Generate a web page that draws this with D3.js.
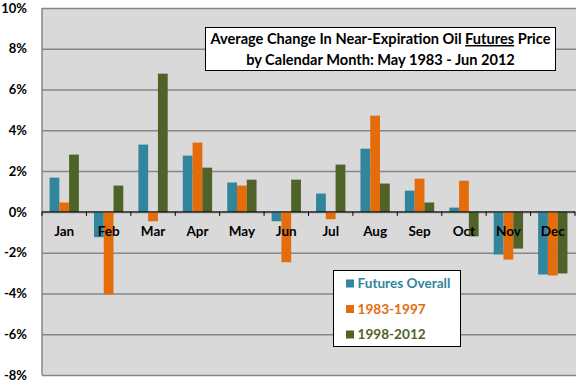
<!DOCTYPE html>
<html>
<head>
<meta charset="utf-8">
<script src="https://cdn.jsdelivr.net/npm/d3@7"></script>
<style>
  body { margin: 0; background: #fff; }
  svg { display: block; font-family: Lato, "Open Sans", sans-serif; font-weight: bold; }
  .grid line { stroke: #868686; stroke-width: 1.5; }
  .grid .domain { display: none; }
</style>
</head>
<body>
<svg id="chart"></svg>
<script>
const months = ['Jan', 'Feb', 'Mar', 'Apr', 'May', 'Jun', 'Jul', 'Aug', 'Sep', 'Oct', 'Nov', 'Dec'];
const seriesNames = ['Futures Overall', '1983-1997', '1998-2012'];
const futuresOverall = [1.68, -1.24, 3.30, 2.76, 1.44, -0.46, 0.90, 3.10, 1.04, 0.21, -2.09, -3.07];
const early = [0.46, -4.04, -0.46, 3.40, 1.29, -2.47, -0.36, 4.72, 1.63, 1.53, -2.34, -3.12];
const late = [2.81, 1.29, 6.78, 2.17, 1.58, 1.58, 2.32, 1.39, 0.46, -1.20, -1.80, -3.02];
const yTicks = [-8, -6, -4, -2, 0, 2, 4, 6, 8, 10];
const colors = ['#31859c', '#e46c0a', '#4f6228'];

const width = 576, height = 384;
const margin = {top: 8, right: 1, bottom: 9, left: 42};
const innerW = width - margin.left - margin.right;
const innerH = height - margin.top - margin.bottom;

const svg = d3.select('#chart')
    .attr('width', width)
    .attr('height', height);

const g = svg.append('g')
    .attr('transform', 'translate(' + margin.left + ',' + margin.top + ')');

g.append('rect')
    .attr('width', width - margin.left)
    .attr('height', innerH)
    .attr('fill', '#d9d9d9');

const x = d3.scaleBand()
    .domain(months)
    .range([0, innerW])
    .paddingInner(0.34)
    .paddingOuter(0.17);

const xSub = d3.scaleBand()
    .domain(d3.range(seriesNames.length))
    .range([0, x.bandwidth()]);

const y = d3.scaleLinear()
    .domain([-8, 10])
    .range([innerH, 0]);

// gridlines
g.append('g')
    .attr('class', 'grid')
    .call(d3.axisLeft(y).tickValues(yTicks).tickSize(-(width - margin.left)).tickFormat(''));

// left axis line
g.append('line')
    .attr('x1', 0).attr('x2', 0)
    .attr('y1', 0).attr('y2', innerH)
    .attr('stroke', '#868686')
    .attr('stroke-width', 1.5);

// y labels
g.selectAll('.ylab')
    .data(yTicks)
  .enter().append('text')
    .attr('class', 'ylab')
    .attr('x', -15)
    .attr('y', d => y(d))
    .attr('dy', '0.36em')
    .attr('text-anchor', 'end')
    .attr('font-size', 13)
    .attr('fill', '#000')
    .text(d => d + '%');

// bars
const seriesData = [futuresOverall, early, late];
seriesData.forEach((vals, si) => {
    g.selectAll('.bar' + si)
        .data(vals)
      .enter().append('rect')
        .attr('class', 'bar' + si)
        .attr('x', (d, i) => x(months[i]) + xSub(si))
        .attr('width', xSub.bandwidth())
        .attr('y', d => y(Math.max(0, d)))
        .attr('height', d => Math.abs(y(d) - y(0)))
        .attr('fill', colors[si]);
});

// zero axis with ticks at category boundaries
const step = x.step();
const boundaries = d3.range(months.length + 1).map(i => i * step);
g.append('line')
    .attr('x1', 0).attr('x2', innerW)
    .attr('y1', y(0)).attr('y2', y(0))
    .attr('stroke', '#000')
    .attr('stroke-width', 1);
g.selectAll('.xtick')
    .data(boundaries)
  .enter().append('line')
    .attr('class', 'xtick')
    .attr('x1', d => d).attr('x2', d => d)
    .attr('y1', y(0)).attr('y2', y(0) + 4)
    .attr('stroke', '#000');

g.selectAll('.xlab')
    .data(months)
  .enter().append('text')
    .attr('class', 'xlab')
    .attr('x', d => x(d) + x.bandwidth() / 2)
    .attr('y', y(0) + 19)
    .attr('dy', '0.36em')
    .attr('text-anchor', 'middle')
    .attr('font-size', 13.5)
    .attr('fill', '#000')
    .text(d => d);

// title box
const title = svg.append('g').attr('transform', 'translate(205.5,27.5)');
title.append('rect')
    .attr('width', 350)
    .attr('height', 43)
    .attr('fill', '#fff')
    .attr('stroke', '#000');
const t1 = title.append('text')
    .attr('x', 175).attr('y', 16.5)
    .attr('text-anchor', 'middle')
    .attr('font-size', 14.6)
    .attr('fill', '#000');
t1.append('tspan').text('Average Change In Near-Expiration Oil ');
t1.append('tspan').attr('text-decoration', 'underline').text('Futures');
t1.append('tspan').text(' Price');
title.append('text')
    .attr('x', 175).attr('y', 37)
    .attr('text-anchor', 'middle')
    .attr('font-size', 14.6)
    .attr('fill', '#000')
    .text('by Calendar Month: May 1983 - Jun 2012');

// legend
const legend = svg.append('g').attr('transform', 'translate(333.5,270.5)');
legend.append('rect')
    .attr('width', 127)
    .attr('height', 76)
    .attr('fill', '#fff')
    .attr('stroke', '#000');
seriesNames.forEach((name, i) => {
    const row = legend.append('g').attr('transform', 'translate(0,' + (13 + i * 25.5) + ')');
    row.append('rect')
        .attr('x', 12.5).attr('y', -4)
        .attr('width', 8).attr('height', 8)
        .attr('fill', colors[i]);
    row.append('text')
        .attr('x', 24)
        .attr('dy', '0.36em')
        .attr('font-size', 13.6)
        .attr('fill', colors[i])
        .text(name);
});
</script>
</body>
</html>
